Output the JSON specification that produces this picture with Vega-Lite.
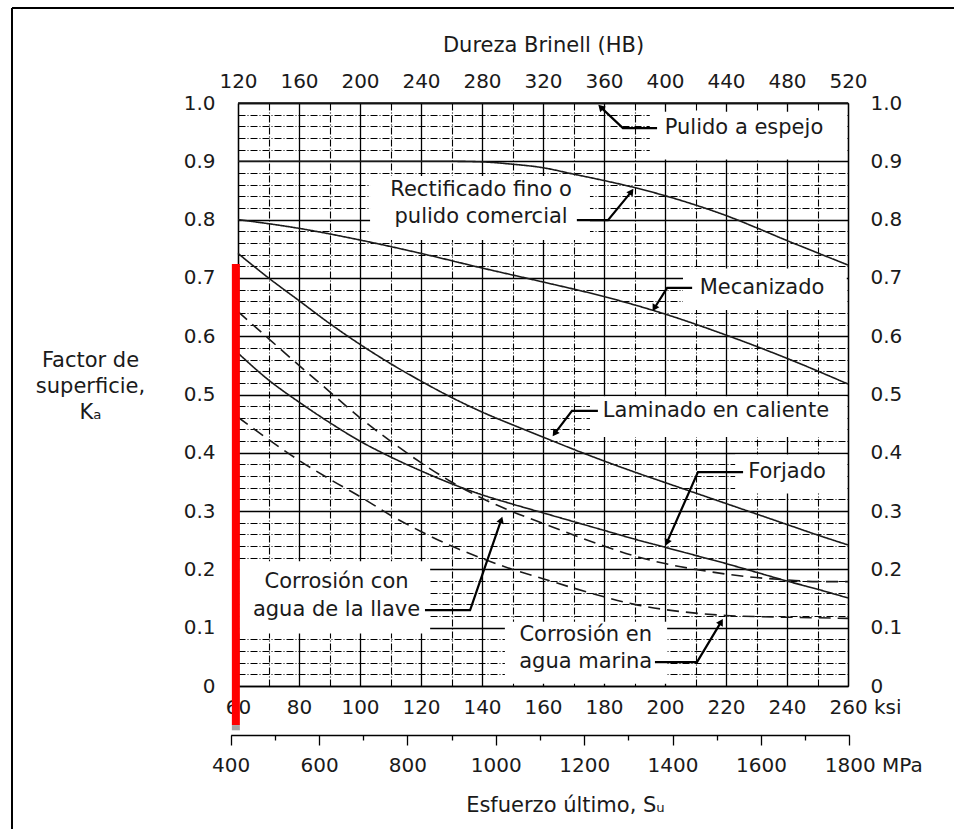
{
  "$schema": "https://vega.github.io/schema/vega-lite/v6.json",
  "width": 610,
  "height": 583,
  "autosize": {"type": "none"},
  "padding": {"left": 238, "top": 103, "right": 106, "bottom": 143},
  "background": "white",
  "config": {
    "font": "DejaVu Sans",
    "view": {"stroke": null},
    "axis": {
      "labelFont": "DejaVu Sans",
      "labelFontSize": 20,
      "labelColor": "#1a1a1a",
      "titleFont": "DejaVu Sans",
      "titleFontSize": 21,
      "titleFontWeight": "normal",
      "titleColor": "#1a1a1a",
      "domainColor": "#000000",
      "domainWidth": 1.3,
      "tickColor": "#000000",
      "labelFlush": false,
      "labelOverlap": false,
      "labelBound": false,
      "tickCount": 200
    }
  },
  "datasets": {
    "curves": [
      {"c": "Pulido", "s": 60, "k": 1.0}, {"c": "Pulido", "s": 260, "k": 1.0},
      {"c": "Rectificado", "s": 60, "k": 0.9}, {"c": "Rectificado", "s": 100, "k": 0.9}, {"c": "Rectificado", "s": 130, "k": 0.9}, {"c": "Rectificado", "s": 140, "k": 0.899}, {"c": "Rectificado", "s": 150, "k": 0.895}, {"c": "Rectificado", "s": 160, "k": 0.889}, {"c": "Rectificado", "s": 170, "k": 0.878}, {"c": "Rectificado", "s": 180, "k": 0.867}, {"c": "Rectificado", "s": 190, "k": 0.855}, {"c": "Rectificado", "s": 200, "k": 0.841}, {"c": "Rectificado", "s": 210, "k": 0.825}, {"c": "Rectificado", "s": 220, "k": 0.807}, {"c": "Rectificado", "s": 230, "k": 0.786}, {"c": "Rectificado", "s": 240, "k": 0.764}, {"c": "Rectificado", "s": 250, "k": 0.743}, {"c": "Rectificado", "s": 260, "k": 0.722},
      {"c": "Mecanizado", "s": 60, "k": 0.8}, {"c": "Mecanizado", "s": 80, "k": 0.785}, {"c": "Mecanizado", "s": 100, "k": 0.765}, {"c": "Mecanizado", "s": 120, "k": 0.742}, {"c": "Mecanizado", "s": 140, "k": 0.717}, {"c": "Mecanizado", "s": 160, "k": 0.693}, {"c": "Mecanizado", "s": 180, "k": 0.668}, {"c": "Mecanizado", "s": 200, "k": 0.638}, {"c": "Mecanizado", "s": 220, "k": 0.602}, {"c": "Mecanizado", "s": 240, "k": 0.562}, {"c": "Mecanizado", "s": 260, "k": 0.518},
      {"c": "Laminado", "s": 60, "k": 0.742}, {"c": "Laminado", "s": 70, "k": 0.7}, {"c": "Laminado", "s": 80, "k": 0.661}, {"c": "Laminado", "s": 90, "k": 0.622}, {"c": "Laminado", "s": 100, "k": 0.586}, {"c": "Laminado", "s": 110, "k": 0.553}, {"c": "Laminado", "s": 120, "k": 0.523}, {"c": "Laminado", "s": 130, "k": 0.495}, {"c": "Laminado", "s": 140, "k": 0.47}, {"c": "Laminado", "s": 150, "k": 0.448}, {"c": "Laminado", "s": 160, "k": 0.427}, {"c": "Laminado", "s": 170, "k": 0.406}, {"c": "Laminado", "s": 180, "k": 0.386}, {"c": "Laminado", "s": 190, "k": 0.367}, {"c": "Laminado", "s": 200, "k": 0.349}, {"c": "Laminado", "s": 210, "k": 0.331}, {"c": "Laminado", "s": 220, "k": 0.313}, {"c": "Laminado", "s": 230, "k": 0.295}, {"c": "Laminado", "s": 240, "k": 0.277}, {"c": "Laminado", "s": 250, "k": 0.259}, {"c": "Laminado", "s": 260, "k": 0.242},
      {"c": "Forjado", "s": 60, "k": 0.571}, {"c": "Forjado", "s": 70, "k": 0.525}, {"c": "Forjado", "s": 80, "k": 0.487}, {"c": "Forjado", "s": 90, "k": 0.452}, {"c": "Forjado", "s": 100, "k": 0.42}, {"c": "Forjado", "s": 110, "k": 0.393}, {"c": "Forjado", "s": 120, "k": 0.369}, {"c": "Forjado", "s": 130, "k": 0.347}, {"c": "Forjado", "s": 140, "k": 0.328}, {"c": "Forjado", "s": 150, "k": 0.312}, {"c": "Forjado", "s": 160, "k": 0.297}, {"c": "Forjado", "s": 170, "k": 0.282}, {"c": "Forjado", "s": 180, "k": 0.267}, {"c": "Forjado", "s": 190, "k": 0.252}, {"c": "Forjado", "s": 200, "k": 0.238}, {"c": "Forjado", "s": 210, "k": 0.224}, {"c": "Forjado", "s": 220, "k": 0.21}, {"c": "Forjado", "s": 230, "k": 0.195}, {"c": "Forjado", "s": 240, "k": 0.18}, {"c": "Forjado", "s": 250, "k": 0.166}, {"c": "Forjado", "s": 260, "k": 0.151},
      {"c": "Llave", "s": 60, "k": 0.642}, {"c": "Llave", "s": 70, "k": 0.596}, {"c": "Llave", "s": 80, "k": 0.55}, {"c": "Llave", "s": 90, "k": 0.505}, {"c": "Llave", "s": 100, "k": 0.46}, {"c": "Llave", "s": 110, "k": 0.42}, {"c": "Llave", "s": 120, "k": 0.383}, {"c": "Llave", "s": 130, "k": 0.35}, {"c": "Llave", "s": 140, "k": 0.322}, {"c": "Llave", "s": 150, "k": 0.299}, {"c": "Llave", "s": 160, "k": 0.279}, {"c": "Llave", "s": 170, "k": 0.259}, {"c": "Llave", "s": 180, "k": 0.24}, {"c": "Llave", "s": 190, "k": 0.223}, {"c": "Llave", "s": 200, "k": 0.21}, {"c": "Llave", "s": 210, "k": 0.2}, {"c": "Llave", "s": 220, "k": 0.192}, {"c": "Llave", "s": 230, "k": 0.186}, {"c": "Llave", "s": 240, "k": 0.182}, {"c": "Llave", "s": 250, "k": 0.179}, {"c": "Llave", "s": 260, "k": 0.179},
      {"c": "Marina", "s": 60, "k": 0.461}, {"c": "Marina", "s": 70, "k": 0.423}, {"c": "Marina", "s": 80, "k": 0.387}, {"c": "Marina", "s": 90, "k": 0.355}, {"c": "Marina", "s": 100, "k": 0.325}, {"c": "Marina", "s": 110, "k": 0.293}, {"c": "Marina", "s": 120, "k": 0.265}, {"c": "Marina", "s": 130, "k": 0.24}, {"c": "Marina", "s": 140, "k": 0.219}, {"c": "Marina", "s": 150, "k": 0.2}, {"c": "Marina", "s": 160, "k": 0.184}, {"c": "Marina", "s": 170, "k": 0.168}, {"c": "Marina", "s": 180, "k": 0.153}, {"c": "Marina", "s": 190, "k": 0.14}, {"c": "Marina", "s": 200, "k": 0.131}, {"c": "Marina", "s": 210, "k": 0.125}, {"c": "Marina", "s": 220, "k": 0.121}, {"c": "Marina", "s": 230, "k": 0.119}, {"c": "Marina", "s": 240, "k": 0.118}, {"c": "Marina", "s": 250, "k": 0.117}, {"c": "Marina", "s": 260, "k": 0.116}
    ],
    "boxes": [
      {"s": 195, "s2": 259.6, "k": 0.903, "k2": 0.985},
      {"s": 103.3, "s2": 175.4, "k": 0.765, "k2": 0.875},
      {"s": 205.9, "s2": 259.6, "k": 0.645, "k2": 0.716},
      {"s": 175.4, "s2": 259.6, "k": 0.427, "k2": 0.497},
      {"s": 223, "s2": 259.6, "k": 0.33, "k2": 0.397},
      {"s": 60.4, "s2": 123, "k": 0.09, "k2": 0.214},
      {"s": 147.5, "s2": 200.7, "k": 0.004, "k2": 0.11}
    ],
    "leaders": [
      {"id": "P", "o": 0, "s": 197.4, "k": 0.957}, {"id": "P", "o": 1, "s": 186.2, "k": 0.957}, {"id": "P", "o": 2, "s": 178.9, "k": 0.993},
      {"id": "R", "o": 0, "s": 171.1, "k": 0.799}, {"id": "R", "o": 1, "s": 181.3, "k": 0.799}, {"id": "R", "o": 2, "s": 189.0, "k": 0.848},
      {"id": "M", "o": 0, "s": 208.9, "k": 0.683}, {"id": "M", "o": 1, "s": 200.7, "k": 0.683}, {"id": "M", "o": 2, "s": 196.5, "k": 0.648},
      {"id": "L", "o": 0, "s": 178.0, "k": 0.472}, {"id": "L", "o": 1, "s": 169.5, "k": 0.472}, {"id": "L", "o": 2, "s": 163.8, "k": 0.433},
      {"id": "F", "o": 0, "s": 225.6, "k": 0.367}, {"id": "F", "o": 1, "s": 210.8, "k": 0.367}, {"id": "F", "o": 2, "s": 200.6, "k": 0.246},
      {"id": "T", "o": 0, "s": 121.3, "k": 0.13}, {"id": "T", "o": 1, "s": 136.1, "k": 0.13}, {"id": "T", "o": 2, "s": 146.3, "k": 0.285},
      {"id": "S", "o": 0, "s": 196.7, "k": 0.041}, {"id": "S", "o": 1, "s": 210.5, "k": 0.041}, {"id": "S", "o": 2, "s": 218.4, "k": 0.11}
    ],
    "tips": [
      {"s": 178.9, "k": 0.993, "a": 316},
      {"s": 189.0, "k": 0.848, "a": 35},
      {"s": 196.5, "k": 0.648, "a": 210},
      {"s": 163.8, "k": 0.433, "a": 215},
      {"s": 200.6, "k": 0.246, "a": 204},
      {"s": 146.3, "k": 0.285, "a": 19},
      {"s": 218.4, "k": 0.11, "a": 30}
    ],
    "labels": [
      {"t": "Pulido a espejo", "s": 225.9, "k": 0.957},
      {"t": "Rectificado fino o", "s": 139.7, "k": 0.851},
      {"t": "pulido comercial", "s": 139.7, "k": 0.804},
      {"t": "Mecanizado", "s": 231.8, "k": 0.683},
      {"t": "Laminado en caliente", "s": 216.7, "k": 0.472},
      {"t": "Forjado", "s": 240.0, "k": 0.367},
      {"t": "Corrosión con", "s": 92.3, "k": 0.178},
      {"t": "agua de la llave", "s": 92.3, "k": 0.13},
      {"t": "Corrosión en", "s": 174.0, "k": 0.087},
      {"t": "agua marina", "s": 174.0, "k": 0.041}
    ],
    "frame": [
      {"s": -14.1, "s2": -14.1, "k": 1.163, "k2": -0.26},
      {"s": -14.1, "s2": 300, "k": 1.163, "k2": 1.163}
    ],
    "redbar": [
      {"s": 59.3, "k": 0.724, "k2": -0.067, "part": "rojo"},
      {"s": 59.3, "k": -0.067, "k2": -0.076, "part": "gris"}
    ],
    "hb": [{"hb": 120}, {"hb": 520}],
    "mpa": [{"mpa": 400}, {"mpa": 1800}],
    "ka": [{"ka": 0}, {"ka": 1}]
  },
  "layer": [
    {
      "layer": [
        {
          "data": {"name": "boxes"},
          "mark": {"type": "rect", "fill": "white", "stroke": null, "clip": false},
          "encoding": {
            "x": {"field": "s", "type": "quantitative", "scale": {"domain": [60, 260], "nice": false, "zero": false},
              "axis": {
                "orient": "bottom",
                "values": [60, 70, 80, 90, 100, 110, 120, 130, 140, 150, 160, 170, 180, 190, 200, 210, 220, 230, 240, 250, 260],
                "tickCount": 200,
                "labelExpr": "datum.value % 20 == 0 ? (datum.value == 260 ? '260 ksi' : datum.label) : ''",
                "labelAlign": {"condition": {"test": "datum.value == 260", "value": "left"}, "value": "center"},
                "labelOffset": {"condition": {"test": "datum.value == 260", "value": -19}, "value": 0},
                "labelPadding": 11,
                "ticks": false,
                "grid": true,
                "gridColor": "#000000",
                "gridOpacity": 1,
                "gridWidth": {"condition": {"test": "datum.value % 20 == 0", "value": 1.3}, "value": 1.1},
                "gridDash": {"condition": {"test": "datum.value % 20 == 0", "value": []}, "value": [7, 2, 1, 2]},
                "title": null
              }
            },
            "x2": {"field": "s2"},
            "y": {"field": "k", "type": "quantitative", "scale": {"domain": [0, 1], "nice": false, "zero": false},
              "axis": {
                "orient": "left",
                "values": [0, 0.02, 0.04, 0.06, 0.08, 0.1, 0.12, 0.14, 0.16, 0.18, 0.2, 0.22, 0.24, 0.26, 0.28, 0.3, 0.32, 0.34, 0.36, 0.38, 0.4, 0.42, 0.44, 0.46, 0.48, 0.5, 0.52, 0.54, 0.56, 0.58, 0.6, 0.62, 0.64, 0.66, 0.68, 0.7, 0.72, 0.74, 0.76, 0.78, 0.8, 0.82, 0.84, 0.86, 0.88, 0.9, 0.92, 0.94, 0.96, 0.98, 1.0],
                "tickCount": 200,
                "labelExpr": "abs(datum.value * 10 - round(datum.value * 10)) < 0.001 ? (datum.value == 0 ? '0' : format(datum.value, '.1f')) : ''",
                "labelPadding": 23,
                "ticks": false,
                "grid": true,
                "gridColor": "#000000",
                "gridOpacity": 1,
                "gridWidth": {"condition": {"test": "abs(datum.value * 10 - round(datum.value * 10)) < 0.001", "value": 1.3}, "value": 1.1},
                "gridDash": {"condition": {"test": "abs(datum.value * 10 - round(datum.value * 10)) < 0.001", "value": []}, "value": [7, 2, 1, 2]},
                "title": ["Factor de", "superficie,", "Kₐ"],
                "titleAngle": 0,
                "titleAlign": "center",
                "titleBaseline": "alphabetic",
                "titleX": -148,
                "titleY": 263,
                "titleLineHeight": 26,
                "titleFontSize": 21
              }
            },
            "y2": {"field": "k2"}
          }
        },
        {
          "data": {"name": "curves"},
          "mark": {"type": "line", "color": "#1a1a1a", "strokeWidth": 1.6, "interpolate": "monotone", "clip": false},
          "encoding": {
            "x": {"field": "s", "type": "quantitative", "scale": {"domain": [60, 260], "nice": false, "zero": false}},
            "y": {"field": "k", "type": "quantitative", "scale": {"domain": [0, 1], "nice": false, "zero": false}},
            "detail": {"field": "c"},
            "strokeDash": {"field": "c", "type": "nominal", "legend": null,
              "scale": {"domain": ["Pulido", "Rectificado", "Mecanizado", "Laminado", "Forjado", "Llave", "Marina"],
                "range": [[1, 0], [1, 0], [1, 0], [1, 0], [1, 0], [12, 7], [12, 7]]}}
          }
        },
        {
          "data": {"name": "leaders"},
          "mark": {"type": "line", "color": "#000000", "strokeWidth": 2.2, "clip": false},
          "encoding": {
            "x": {"field": "s", "type": "quantitative", "scale": {"domain": [60, 260], "nice": false, "zero": false}},
            "y": {"field": "k", "type": "quantitative", "scale": {"domain": [0, 1], "nice": false, "zero": false}},
            "detail": {"field": "id"},
            "order": {"field": "o"}
          }
        },
        {
          "data": {"name": "tips"},
          "mark": {"type": "point", "shape": "triangle-up", "filled": true, "color": "#000000", "opacity": 1, "size": 60, "clip": false},
          "encoding": {
            "x": {"field": "s", "type": "quantitative", "scale": {"domain": [60, 260], "nice": false, "zero": false}},
            "y": {"field": "k", "type": "quantitative", "scale": {"domain": [0, 1], "nice": false, "zero": false}},
            "angle": {"field": "a", "type": "quantitative", "scale": null}
          }
        },
        {
          "data": {"name": "labels"},
          "mark": {"type": "text", "font": "DejaVu Sans", "fontSize": 21, "color": "#1a1a1a", "align": "center", "baseline": "middle", "clip": false},
          "encoding": {
            "x": {"field": "s", "type": "quantitative", "scale": {"domain": [60, 260], "nice": false, "zero": false}},
            "y": {"field": "k", "type": "quantitative", "scale": {"domain": [0, 1], "nice": false, "zero": false}},
            "text": {"field": "t"}
          }
        },
        {
          "data": {"name": "frame"},
          "mark": {"type": "rule", "color": "#000000", "strokeWidth": 2, "clip": false},
          "encoding": {
            "x": {"field": "s", "type": "quantitative", "scale": {"domain": [60, 260], "nice": false, "zero": false}},
            "x2": {"field": "s2"},
            "y": {"field": "k", "type": "quantitative", "scale": {"domain": [0, 1], "nice": false, "zero": false}},
            "y2": {"field": "k2"}
          }
        },
        {
          "data": {"name": "redbar"},
          "mark": {"type": "rule", "strokeWidth": 8, "clip": false},
          "encoding": {
            "x": {"field": "s", "type": "quantitative", "scale": {"domain": [60, 260], "nice": false, "zero": false}},
            "y": {"field": "k", "type": "quantitative", "scale": {"domain": [0, 1], "nice": false, "zero": false}},
            "y2": {"field": "k2"},
            "color": {"field": "part", "type": "nominal", "legend": null, "scale": {"domain": ["rojo", "gris"], "range": ["#ff0000", "#a6a6a6"]}}
          }
        }
      ]
    },
    {
      "data": {"name": "hb"},
      "mark": {"type": "point", "opacity": 0},
      "encoding": {
        "x": {"field": "hb", "type": "quantitative", "scale": {"domain": [120, 520], "nice": false, "zero": false},
          "axis": {
            "orient": "top",
            "values": [120, 160, 200, 240, 280, 320, 360, 400, 440, 480, 520],
            "ticks": false,
            "grid": false,
            "domain": true,
            "labelPadding": 12,
            "title": "Dureza Brinell (HB)",
            "titleBaseline": "alphabetic",
            "titleX": 305,
            "titleY": -52,
            "titleAnchor": "middle"
          }
        }
      }
    },
    {
      "data": {"name": "mpa"},
      "mark": {"type": "point", "opacity": 0},
      "encoding": {
        "x": {"field": "mpa", "type": "quantitative", "scale": {"domain": [400, 1800], "range": [-7.3, 611.3], "nice": false, "zero": false},
          "axis": {
            "orient": "bottom",
            "offset": 49,
            "values": [400, 500, 600, 700, 800, 900, 1000, 1100, 1200, 1300, 1400, 1500, 1600, 1700, 1800],
            "labelExpr": "datum.value % 200 == 0 ? (datum.value == 1800 ? '1800 MPa' : datum.label) : ''",
            "format": "d",
            "labelAlign": {"condition": {"test": "datum.value == 1800", "value": "left"}, "value": "center"},
            "labelOffset": {"condition": {"test": "datum.value == 1800", "value": -25}, "value": 0},
            "ticks": true,
            "tickSize": {"condition": {"test": "datum.value % 200 == 0", "value": 10}, "value": 5},
            "tickWidth": 1.3,
            "labelPadding": 10,
            "grid": false,
            "domain": true,
            "title": "Esfuerzo último, Sᵤ",
            "titleBaseline": "alphabetic",
            "titleX": 327,
            "titleY": 76,
            "titleAnchor": "middle"
          }
        }
      }
    },
    {
      "data": {"name": "ka"},
      "mark": {"type": "point", "opacity": 0},
      "encoding": {
        "y": {"field": "ka", "type": "quantitative", "scale": {"domain": [0, 1], "nice": false, "zero": false},
          "axis": {
            "orient": "right",
            "values": [0, 0.1, 0.2, 0.3, 0.4, 0.5, 0.6, 0.7, 0.8, 0.9, 1.0],
            "labelExpr": "datum.value == 0 ? '0' : format(datum.value, '.1f')",
            "labelPadding": 22,
            "ticks": false,
            "grid": false,
            "domain": true,
            "title": null
          }
        }
      }
    }
  ],
  "resolve": {"scale": {"x": "independent", "y": "independent"}}
}
